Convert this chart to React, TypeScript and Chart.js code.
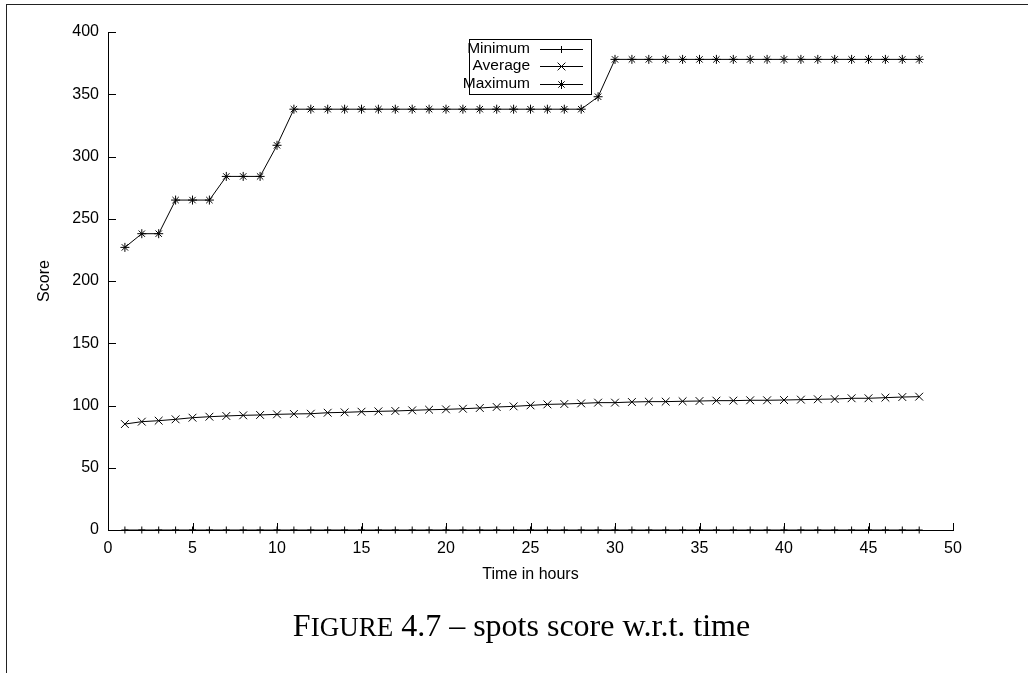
import React, { useEffect, useRef } from 'react';
import { Chart, registerables } from 'chart.js';

Chart.register(...registerables);

// ---- Data ----
const hours = [
  1, 2, 3, 4, 5, 6, 7, 8, 9, 10, 11, 12, 13, 14, 15, 16, 17, 18, 19, 20, 21, 22, 23, 24,
  25, 26, 27, 28, 29, 30, 31, 32, 33, 34, 35, 36, 37, 38, 39, 40, 41, 42, 43, 44, 45, 46, 47, 48,
];

const minimumScores = [
  0, 0, 0, 0, 0, 0, 0, 0, 0, 0, 0, 0, 0, 0, 0, 0, 0, 0, 0, 0, 0, 0, 0, 0,
  0, 0, 0, 0, 0, 0, 0, 0, 0, 0, 0, 0, 0, 0, 0, 0, 0, 0, 0, 0, 0, 0, 0, 0,
];

const averageScores = [
  85.1, 87.0, 87.8, 88.9, 90.2, 91.0, 91.6, 92.1, 92.4, 92.9, 93.2, 93.4,
  94.2, 94.5, 95.0, 95.3, 95.6, 96.1, 96.6, 96.9, 97.4, 98.0, 98.8, 99.3,
  100.1, 100.9, 101.2, 101.7, 102.3, 102.3, 102.8, 103.1, 103.1, 103.4, 103.6, 103.9,
  103.9, 104.2, 104.2, 104.4, 104.7, 105.0, 105.2, 105.8, 105.8, 106.3, 106.8, 107.1,
];

const maximumScores = [
  227, 238, 238, 265, 265, 265, 284, 284, 284, 309, 338, 338,
  338, 338, 338, 338, 338, 338, 338, 338, 338, 338, 338, 338,
  338, 338, 338, 338, 348, 378, 378, 378, 378, 378, 378, 378,
  378, 378, 378, 378, 378, 378, 378, 378, 378, 378, 378, 378,
];

const seriesLabels = ['Minimum', 'Average', 'Maximum'];
const xAxisTitle = 'Time in hours';
const yAxisTitle = 'Score';
const captionLead = 'F';
const captionSmallCaps = 'IGURE';
const captionRest = ' 4.7 – spots score w.r.t. time';

const SANS = '"Liberation Sans", Arial, Helvetica, sans-serif';

function drawMarker(ctx: CanvasRenderingContext2D, style: string, x: number, y: number, r: number) {
  ctx.beginPath();
  if (style === 'cross' || style === 'star') {
    ctx.moveTo(x - r, y);
    ctx.lineTo(x + r, y);
    ctx.moveTo(x, y - r);
    ctx.lineTo(x, y + r);
  }
  if (style === 'crossRot' || style === 'star') {
    const d = r * Math.SQRT1_2;
    ctx.moveTo(x - d, y - d);
    ctx.lineTo(x + d, y + d);
    ctx.moveTo(x - d, y + d);
    ctx.lineTo(x + d, y - d);
  }
  ctx.stroke();
}

const innerTicks = {
  id: 'innerTicks',
  beforeDatasetsDraw(chart: any) {
    const { ctx, scales } = chart;
    const xs = scales.x;
    const ys = scales.y;
    ctx.save();
    ctx.strokeStyle = '#000';
    ctx.lineWidth = 1;
    ctx.beginPath();
    xs.ticks.forEach((t: any) => {
      const px = Math.round(xs.getPixelForValue(t.value)) + 0.5;
      ctx.moveTo(px, ys.bottom);
      ctx.lineTo(px, ys.bottom - 7);
    });
    ys.ticks.forEach((t: any) => {
      const py = Math.round(ys.getPixelForValue(t.value)) + 0.5;
      ctx.moveTo(xs.left, py);
      ctx.lineTo(xs.left + 8, py);
    });
    ctx.stroke();
    ctx.restore();
  },
};

const legendBox = {
  id: 'legendBox',
  afterDraw(chart: any) {
    const ctx: CanvasRenderingContext2D = chart.ctx;
    ctx.save();
    ctx.strokeStyle = '#000';
    ctx.lineWidth = 1;
    ctx.strokeRect(469.5, 39.5, 122, 55);
    ctx.font = `15.5px ${SANS}`;
    ctx.textAlign = 'right';
    ctx.textBaseline = 'middle';
    ctx.fillStyle = '#000';
    chart.data.datasets.forEach((ds: any, i: number) => {
      const y = 48.5 + i * 17.5;
      ctx.fillText(ds.label, 530, y);
      ctx.beginPath();
      ctx.moveTo(540, Math.round(y) + 0.5);
      ctx.lineTo(583, Math.round(y) + 0.5);
      ctx.stroke();
      drawMarker(ctx, ds.pointStyle, 561.5, Math.round(y) + 0.5, ds.pointRadius);
    });
    ctx.restore();
  },
};

export default function App() {
  const ref = useRef<HTMLCanvasElement>(null);

  useEffect(() => {
    const mk = (values: number[]) => hours.map((h, i) => ({ x: h, y: values[i] }));
    const common = {
      borderColor: '#000',
      borderWidth: 1,
      pointBorderColor: '#000',
      pointBackgroundColor: '#000',
      pointBorderWidth: 1,
      tension: 0,
      fill: false,
      clip: false as any,
    };
    const chart = new Chart(ref.current as HTMLCanvasElement, {
      type: 'line',
      data: {
        datasets: [
          { ...common, label: seriesLabels[0], data: mk(minimumScores), pointStyle: 'cross', pointRadius: 3.5 },
          { ...common, label: seriesLabels[1], data: mk(averageScores), pointStyle: 'crossRot', pointRadius: 5.5 },
          { ...common, label: seriesLabels[2], data: mk(maximumScores), pointStyle: 'star', pointRadius: 4.5 },
        ] as any,
      },
      options: {
        responsive: false,
        animation: false,
        devicePixelRatio: 1,
        layout: { padding: { left: 0, top: 32, right: 75, bottom: 83 } },
        font: { family: SANS } as any,
        plugins: {
          legend: { display: false },
          tooltip: { enabled: false },
        },
        scales: {
          x: {
            type: 'linear',
            min: 0,
            max: 50,
            afterFit: (s: any) => { s.height = 60; },
            grid: { display: false, drawTicks: false },
            border: { display: true, color: '#000', width: 1 },
            ticks: { stepSize: 5, autoSkip: false, padding: 9, color: '#000', font: { family: SANS, size: 16 } },
            title: { display: true, text: xAxisTitle, color: '#000', font: { family: SANS, size: 16 }, padding: { top: 0, bottom: 5.4 } },
          },
          y: {
            type: 'linear',
            min: 0,
            max: 400,
            afterFit: (s: any) => { s.width = 108; },
            grid: { display: false, drawTicks: false },
            border: { display: true, color: '#000', width: 1 },
            ticks: { stepSize: 50, autoSkip: false, padding: 9, color: '#000', font: { family: SANS, size: 16 } },
            title: { display: true, text: yAxisTitle, color: '#000', font: { family: SANS, size: 16 }, padding: { top: 35.4, bottom: 0 } },
          },
        },
      } as any,
      plugins: [innerTicks, legendBox],
    });
    return () => chart.destroy();
  }, []);

  return (
    <div style={{ position: 'absolute', left: 0, top: 0, width: 1028, height: 673, background: '#fff', overflow: 'hidden' }}>
      <div
        style={{
          position: 'absolute',
          left: 6,
          top: 4,
          width: 1030,
          height: 700,
          borderLeft: '1.5px solid #222',
          borderTop: '1.5px solid #222',
        }}
      />
      <canvas ref={ref} width={1028} height={673} style={{ position: 'absolute', left: 0, top: 0, width: 1028, height: 673 }} />
      <div
        style={{
          position: 'absolute',
          left: 0,
          top: 609,
          width: 1043,
          textAlign: 'center',
          fontFamily: '"Liberation Serif", "Times New Roman", serif',
          fontSize: 32,
          lineHeight: '32px',
          color: '#000',
          whiteSpace: 'nowrap',
        }}
      >
        {captionLead}
        <span style={{ fontSize: 27 }}>{captionSmallCaps}</span>
        {captionRest}
      </div>
    </div>
  );
}
